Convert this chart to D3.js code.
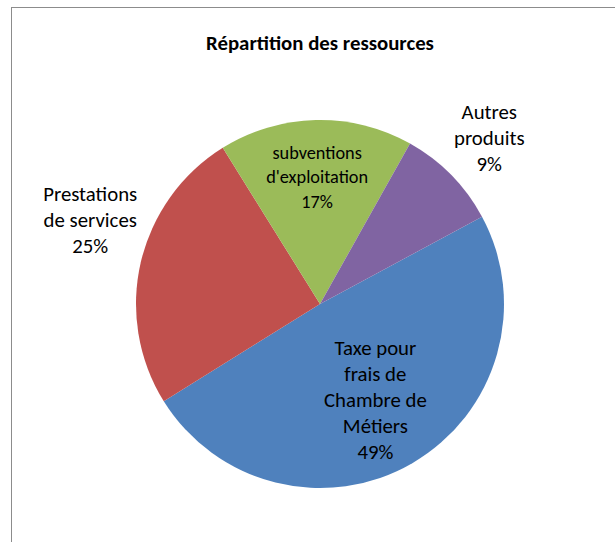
<!DOCTYPE html>
<html><head><meta charset="utf-8">
<script src="https://cdn.jsdelivr.net/npm/d3@7/dist/d3.min.js"></script>
<style>
html,body{margin:0;padding:0;background:#fff;}
svg{display:block;font-family:Carlito,Calibri,Lato,"Open Sans",sans-serif;}
</style></head>
<body>
<script>
// Data
const title = "Répartition des ressources";
const categories = ["Taxe pour frais de Chambre de Métiers", "Prestations de services", "subventions d'exploitation", "Autres produits"];
const values = [49, 25, 17, 9];
const labelLines = [
  ["Taxe pour", "frais de", "Chambre de", "Métiers", "49%"],
  ["Prestations", "de services", "25%"],
  ["subventions", "d'exploitation", "17%"],
  ["Autres", "produits", "9%"]
];
const colors = ["#4F81BD", "#C0504D", "#9BBB59", "#8064A2"];

// Layout
const W = 615, H = 542;
const cx = 320, cy = 304, R = 184;
const startDeg = 61.7;
const labelR = [0.60, 1.33, 0.69, 1.29];
const labelDAngle = [0, 7, 0, 0];
const labelSize = [20.8, 20.8, 18.3, 20.8];
const lineH = [26, 26, 24.5, 26];

const svg = d3.select("body").append("svg").attr("width", W).attr("height", H);

// frame
svg.append("rect").attr("x", 11.5).attr("y", 7.5).attr("width", 700).attr("height", 700)
  .attr("fill", "#fff").attr("stroke", "#8c8c8c").attr("stroke-width", 1);

svg.append("text").attr("x", 320).attr("y", 50).attr("text-anchor", "middle")
  .attr("font-size", 20.8).attr("font-weight", "bold").attr("fill", "#000").text(title);

const rad = d => d * Math.PI / 180;
const pie = d3.pie().sort(null).startAngle(rad(startDeg)).endAngle(rad(startDeg) + 2 * Math.PI);
const arcs = pie(values);
const arc = d3.arc().innerRadius(0).outerRadius(R);

const g = svg.append("g").attr("transform", `translate(${cx},${cy})`);
g.selectAll("path").data(arcs).join("path")
  .attr("d", arc).attr("fill", (d, i) => colors[i]);

arcs.forEach((d, i) => {
  const a = (d.startAngle + d.endAngle) / 2 + rad(labelDAngle[i]);
  const r = labelR[i] * R;
  const x = Math.sin(a) * r, y = -Math.cos(a) * r;
  const lines = labelLines[i];
  const n = lines.length;
  const t = g.append("text").attr("text-anchor", "middle").attr("font-size", labelSize[i]).attr("fill", "#000");
  lines.forEach((s, k) => {
    t.append("tspan").attr("x", x).attr("y", y + (k - (n - 1) / 2) * lineH[i]).attr("dy", "0.35em").text(s);
  });
});
</script>
</body></html>
